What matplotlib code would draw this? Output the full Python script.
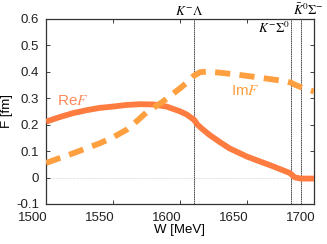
import numpy as np
import matplotlib
matplotlib.use("Agg")
import matplotlib.pyplot as plt
import matplotlib.transforms as mtransforms

plt.rcParams["font.family"] = ["Liberation Sans", "DejaVu Sans"]
plt.rcParams["mathtext.fontset"] = "stix"

# =============================================================================
# DATA
# =============================================================================
w_re = [1500, 1510, 1520, 1530, 1540, 1550, 1560, 1570, 1580, 1590, 1600,
        1605, 1610.5, 1613, 1616, 1622, 1630, 1637, 1650, 1660, 1667, 1675,
        1682, 1685.5, 1690, 1700]
re_f = [0.211, 0.228, 0.243, 0.254, 0.263, 0.268, 0.274, 0.277, 0.276,
        0.268, 0.250, 0.238, 0.218, 0.200, 0.186, 0.161, 0.133, 0.110,
        0.079, 0.060, 0.047, 0.031, 0.017, 0.001, -0.004, -0.004]

w_im = [1500, 1510, 1520, 1530, 1540, 1550, 1560, 1566, 1575, 1587, 1600,
        1605, 1610.5, 1615, 1620, 1630, 1640, 1650, 1660, 1670, 1680, 1683,
        1686, 1690.5, 1700]
im_f = [0.055, 0.073, 0.091, 0.110, 0.129, 0.152, 0.180, 0.205, 0.246,
        0.286, 0.337, 0.358, 0.385, 0.398, 0.400, 0.396, 0.390, 0.384,
        0.377, 0.370, 0.362, 0.358, 0.350, 0.341, 0.325]

# channel thresholds (vertical lines)
thresholds = [1610.5, 1683, 1690.5]

x_ticks = [1500, 1550, 1600, 1650, 1700]
y_ticks = [-0.1, 0, 0.1, 0.2, 0.3, 0.4, 0.5, 0.6]
y_labels = ["-0.1", "0", "0.1", "0.2", "0.3", "0.4", "0.5", "0.6"]

RE_COLOR = "#ff7c40"
IM_COLOR = "#ffa040"

# =============================================================================
# PLOT
# =============================================================================
fig = plt.figure(figsize=(3.27, 2.44), dpi=100)
ax = fig.add_axes([0.1407, 0.164, 0.8195, 0.7594])

ax.axhline(0, color="#c8c8c8", lw=0.5, ls=(0, (1, 1)), zorder=1)
for t in thresholds:
    ax.axvline(t, color="#333333", lw=0.6, ls=(0, (2, 0.6)), zorder=2)

ax.plot(w_re, re_f, color=RE_COLOR, lw=4.2, solid_capstyle="butt", zorder=3)
ax.plot(w_im, im_f, color=IM_COLOR, lw=4.2, dashes=(2.6, 1.6),
        dash_capstyle="butt", zorder=3)

ax.set_xlim(1500, 1700)
ax.set_ylim(-0.1, 0.6)
ax.set_xticks(x_ticks)
ax.set_xticklabels([str(v) for v in x_ticks])
ax.set_yticks(y_ticks)
ax.set_yticklabels(y_labels)
ax.tick_params(direction="in", length=3, width=0.6, top=True, right=True,
               labelsize=9.5, colors="#222222", pad=5)
ax.tick_params(axis="x", pad=5.5)
for lbl in ax.get_xticklabels():
    lbl.set_horizontalalignment("right")
    lbl.set_transform(lbl.get_transform()
                      + mtransforms.ScaledTranslation(2 / 100, 0, fig.dpi_scale_trans))
for sp in ax.spines.values():
    sp.set_color("#333333")
    sp.set_linewidth(0.9)

ax.set_xlabel("W [MeV]", fontsize=9.5, labelpad=0)
ax.set_ylabel("F [fm]", fontsize=9.5, labelpad=2)

ax.text(1508, 0.29, r"Re$F$", color="#ff8a5c", fontsize=11, va="center")
ax.text(1638, 0.327, r"Im$F$", color=IM_COLOR, fontsize=11, va="center")

ax.text(1607, 1.003, r"$K^{-}\Lambda$", transform=ax.get_xaxis_transform(),
        ha="center", va="bottom", fontsize=9.5)
ax.text(1682, 0.562, r"$K^{-}\Sigma^{0}$", ha="right", va="center",
        fontsize=9.5)
ax.text(1684, 1.003, r"$\bar{K}^{0}\Sigma^{-}$",
        transform=ax.get_xaxis_transform(), ha="left", va="bottom",
        fontsize=9.5)

fig.savefig("out.png", dpi=100)
